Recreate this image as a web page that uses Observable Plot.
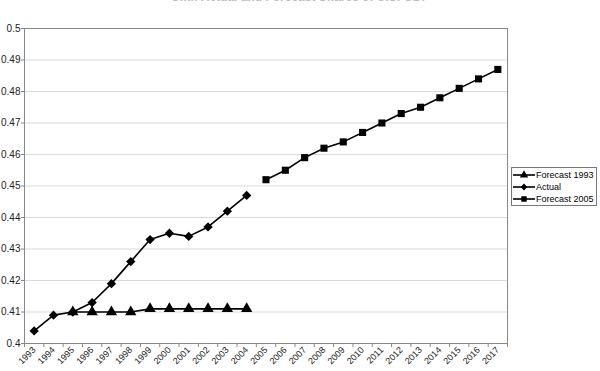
<!DOCTYPE html>
<html>
<head>
<meta charset="utf-8">
<script src="https://cdn.jsdelivr.net/npm/d3@7"></script>
<script src="https://cdn.jsdelivr.net/npm/@observablehq/plot@0.6"></script>
<style>
  html, body { margin: 0; padding: 0; background: #fff; }
  #wrap { position: relative; width: 600px; height: 371px; overflow: hidden; font-family: "Liberation Sans", Arial, sans-serif; }
  #title { position: absolute; left: 0; width: 600px; top: -10px; text-align: center; font-size: 12px; font-weight: bold; color: #bbb; white-space: nowrap; }
  #legend { position: absolute; left: 511px; top: 167px; width: 86px; height: 39px; border: 1px solid #777; background: #fff; box-sizing: border-box; font-size: 9px; color: #000; padding-top: 1px; white-space: nowrap; }
  #legend .row { display: flex; align-items: center; height: 12px; }
  #legend svg { display: block; margin-left: 1px; margin-right: 1px; flex: none; }
</style>
</head>
<body>
<div id="wrap">
  <div id="title">Gini: Actual and Forecast Shares of U.S. GDP</div>
  <div id="chart"></div>
  <div id="legend"></div>
</div>
<script>
// Data
const years = d3.range(1993, 2018);
const forecast1993Years = [1995, 1996, 1997, 1998, 1999, 2000, 2001, 2002, 2003, 2004];
const forecast1993Values = [0.410, 0.410, 0.410, 0.410, 0.411, 0.411, 0.411, 0.411, 0.411, 0.411];
const actualYears = [1993, 1994, 1995, 1996, 1997, 1998, 1999, 2000, 2001, 2002, 2003, 2004];
const actualValues = [0.404, 0.409, 0.410, 0.413, 0.419, 0.426, 0.433, 0.435, 0.434, 0.437, 0.442, 0.447];
const forecast2005Years = [2005, 2006, 2007, 2008, 2009, 2010, 2011, 2012, 2013, 2014, 2015, 2016, 2017];
const forecast2005Values = [0.452, 0.455, 0.459, 0.462, 0.464, 0.467, 0.470, 0.473, 0.475, 0.478, 0.481, 0.484, 0.487];
const yTicks = [0.40, 0.41, 0.42, 0.43, 0.44, 0.45, 0.46, 0.47, 0.48, 0.49, 0.50];
const seriesNames = ["Forecast 1993", "Actual", "Forecast 2005"];
const seriesSymbols = ["triangle", "diamond2", "square"];
const d3Symbols = [d3.symbolTriangle, d3.symbolDiamond2, d3.symbolSquare];

const toRows = (xs, vs, name) => xs.map((x, i) => ({year: x, value: vs[i], series: name}));
const f93 = toRows(forecast1993Years, forecast1993Values, seriesNames[0]);
const act = toRows(actualYears, actualValues, seriesNames[1]);
const f05 = toRows(forecast2005Years, forecast2005Values, seriesNames[2]);
const boundaries = d3.range(years[0] - 0.5, years[years.length - 1] + 1, 1);

const chart = Plot.plot({
  width: 600,
  height: 371,
  marginLeft: 24,
  marginRight: 93,
  marginTop: 28,
  marginBottom: 28,
  style: {fontFamily: "'Liberation Sans', Arial, sans-serif", background: "transparent", overflow: "visible"},
  x: {type: "linear", domain: [years[0] - 0.5, years[years.length - 1] + 0.5], label: null},
  y: {domain: [0.4, 0.5], label: null},
  marks: [
    Plot.gridY(yTicks, {stroke: "#d9d9d9", strokeOpacity: 1}),
    Plot.frame({stroke: "#888"}),
    Plot.axisY(yTicks, {tickSize: 3, stroke: "#888", tickPadding: 1, fontSize: 10, fill: "#222", label: null, tickFormat: d => String(+d.toFixed(2))}),
    Plot.axisX(boundaries, {tickSize: 4, stroke: "#888", label: null, tickFormat: () => ""}),
    Plot.axisX(years, {tickSize: 0, tickPadding: 5, tickRotate: -45, fontSize: 9, fill: "#222", label: null, tickFormat: d => String(d)}),
    Plot.line(f93, {x: "year", y: "value", stroke: "#000", strokeWidth: 1.6}),
    Plot.dot(f93, {x: "year", y: "value", symbol: seriesSymbols[0], fill: "#000", r: 4.2}),
    Plot.line(act, {x: "year", y: "value", stroke: "#000", strokeWidth: 1.6}),
    Plot.dot(act, {x: "year", y: "value", symbol: seriesSymbols[1], fill: "#000", r: 4.2}),
    Plot.line(f05, {x: "year", y: "value", stroke: "#000", strokeWidth: 1.6}),
    Plot.dot(f05, {x: "year", y: "value", symbol: seriesSymbols[2], fill: "#000", r: 4})
  ]
});
document.getElementById("chart").appendChild(chart);

// Legend
const legend = d3.select("#legend");
seriesNames.forEach((name, i) => {
  const row = legend.append("div").attr("class", "row");
  const svg = row.append("svg").attr("width", 22).attr("height", 12);
  svg.append("line").attr("x1", 0).attr("x2", 22).attr("y1", 6).attr("y2", 6).attr("stroke", "#000").attr("stroke-width", 1.6);
  svg.append("path").attr("transform", "translate(11,6)")
    .attr("d", d3.symbol(d3Symbols[i], 30)())
    .attr("fill", "#000");
  row.append("span").text(name);
});
</script>
</body>
</html>
